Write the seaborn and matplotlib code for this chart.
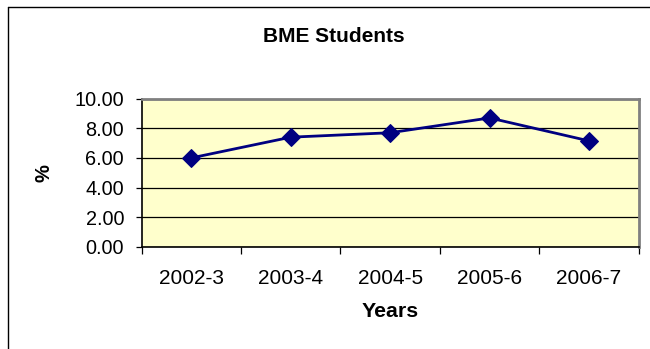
import matplotlib
matplotlib.use("Agg")
import matplotlib.pyplot as plt
import seaborn as sns
import numpy as np
import pandas as pd
from matplotlib.lines import Line2D

years = ["2002-3", "2003-4", "2004-5", "2005-6", "2006-7"]
pct = [6.0, 7.4, 7.7, 8.7, 7.15]
yticks = [0, 2, 4, 6, 8, 10]

df = pd.DataFrame({"Years": years, "%": pct})

sns.set_style("white")
plt.rcParams["font.family"] = ["Liberation Sans", "DejaVu Sans"]
plt.rcParams["text.color"] = "black"
plt.rcParams["axes.labelcolor"] = "black"
plt.rcParams["xtick.color"] = "black"
plt.rcParams["ytick.color"] = "black"

fig = plt.figure(figsize=(6.5, 3.49), dpi=100)
ax = fig.add_axes([0.218, 0.2931, 0.7646, 0.4241])
ax.set_facecolor("#FFFFCC")

sns.lineplot(data=df, x="Years", y="%", ax=ax, sort=False, color="#000080",
             linewidth=2.0, marker="D", markersize=8.8, markeredgecolor="#000080",
             markerfacecolor="#000080", zorder=5)

ax.set_xlim(-0.5, len(years) - 0.5)
ax.set_ylim(0, 10)

# y axis
ax.set_yticks(yticks)
ax.set_yticklabels([f"{v:.2f}" for v in yticks], fontsize=14.3, color="black")
ax.tick_params(axis="y", direction="out", length=4.3, width=0.9, color="black",
               pad=8.4, left=True)
ax.grid(axis="y", color="black", linewidth=0.9)
ax.grid(axis="x", visible=False)
ax.set_axisbelow(True)

# x axis: tick marks between categories, labels at centers
ax.set_xticks(np.arange(-0.5, len(years), 1.0))
ax.set_xticklabels([])
ax.set_xticks(range(len(years)), minor=True)
ax.set_xticklabels(years, minor=True, fontsize=15, color="black")
ax.tick_params(axis="x", which="major", direction="out", length=5, width=0.9,
               color="black", bottom=True)
ax.tick_params(axis="x", which="minor", length=0, pad=16, bottom=True)

for s in ["top", "right"]:
    ax.spines[s].set_color("#808080")
    ax.spines[s].set_linewidth(2)
for s in ["left", "bottom"]:
    ax.spines[s].set_color("black")
    ax.spines[s].set_linewidth(1.2)

ax.set_xlabel("Years", fontsize=15.3, fontweight="bold", color="black")
ax.xaxis.set_label_coords(0.5, -0.375)
ax.set_ylabel("%", fontsize=14.5, fontweight="bold", color="black")
ax.yaxis.set_label_coords(-0.1775, 0.5)

fig.suptitle("BME Students", x=334 / 650, y=1 - 36 / 349, va="center",
             fontsize=15, fontweight="bold", color="black")

# outer chart border (top and left visible)
x0 = 7.5 / 650
y0 = 1 - 7.0 / 349
fig.add_artist(Line2D([x0, x0], [-0.05, y0], transform=fig.transFigure,
                      color="black", linewidth=1.0))
fig.add_artist(Line2D([x0, 1.05], [y0, y0], transform=fig.transFigure,
                      color="black", linewidth=1.0))

fig.savefig("out.png", dpi=100, facecolor="white")
